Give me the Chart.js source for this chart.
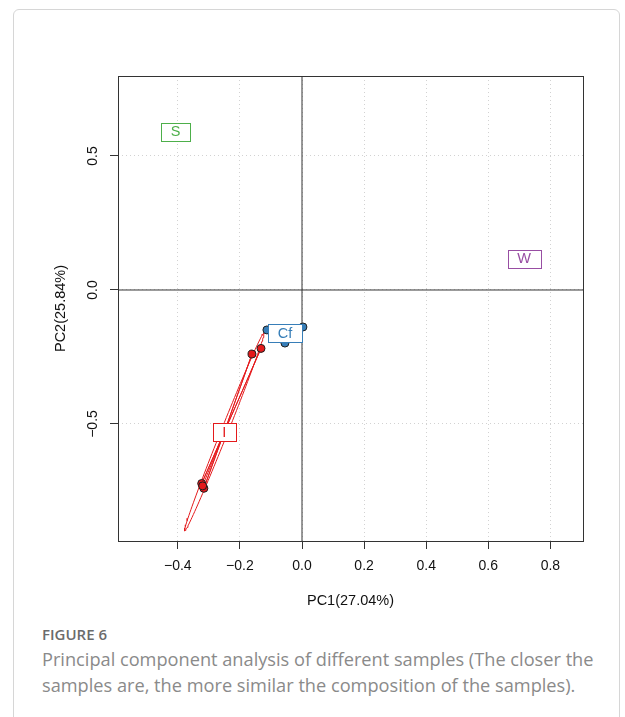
<!DOCTYPE html>
<html><head><meta charset="utf-8">
<script src="https://cdn.jsdelivr.net/npm/chart.js@4.4.1/dist/chart.umd.min.js"></script>
<style>
html,body{margin:0;padding:0;background:#fff;width:625px;height:717px;overflow:hidden;}
#frame{position:absolute;left:13px;top:9px;width:607px;height:760px;border:1px solid #d6d6d6;border-radius:6px;box-sizing:border-box;}
#c{position:absolute;left:0;top:0;}
#fig{position:absolute;left:42px;top:624px;font-family:'Open Sans',sans-serif;font-weight:600;font-size:15px;color:#6b6b6b;line-height:20px;white-space:nowrap;}
#cap{position:absolute;left:42px;top:646px;width:580px;font-family:'Open Sans',sans-serif;font-size:18.2px;line-height:26px;color:#8a8a8a;white-space:nowrap;}
</style></head><body>
<div id="frame"></div>
<canvas id="c" width="625" height="620"></canvas>
<div id="fig">FIGURE 6</div>
<div id="cap">Principal component analysis of different samples (The closer the<br>samples are, the more similar the composition of the samples).</div>
<script>
// ---- data ----
const groupNames = ['S', 'W', 'I', 'Cf'];
const groupColors = ['#4DAF4A', '#984EA3', '#E41A1C', '#377EB8'];
const pc1_S = [-0.410, -0.400, -0.411];
const pc2_S = [0.590, 0.595, 0.588];
const pc1_W = [0.694, 0.726, 0.725];
const pc2_W = [0.131, 0.111, 0.109];
const pc1_I = [-0.161, -0.132, -0.323, -0.316, -0.320];
const pc2_I = [-0.239, -0.218, -0.722, -0.740, -0.731];
const pc1_Cf = [-0.113, 0.003, -0.055];
const pc2_Cf = [-0.149, -0.138, -0.198];
const xTickValues = [-0.4, -0.2, 0.0, 0.2, 0.4, 0.6, 0.8];
const xTickLabels = ['\u22120.4', '\u22120.2', '0.0', '0.2', '0.4', '0.6', '0.8'];
const yTickValues = [-0.5, 0.0, 0.5];
const yTickLabels = ['\u22120.5', '0.0', '0.5'];
const xLimits = [-0.5926, 0.905];
const yLimits = [-0.9366, 0.7985];
const ellipseScale = 1.5;

const groupX = [pc1_S, pc1_W, pc1_I, pc1_Cf];
const groupY = [pc2_S, pc2_W, pc2_I, pc2_Cf];
const ellipseGroups = ['I'];

function stats(xs, ys) {
  const n = xs.length;
  const mx = xs.reduce((a, b) => a + b, 0) / n;
  const my = ys.reduce((a, b) => a + b, 0) / n;
  let sxx = 0, syy = 0, sxy = 0;
  for (let i = 0; i < n; i++) {
    sxx += (xs[i] - mx) ** 2; syy += (ys[i] - my) ** 2; sxy += (xs[i] - mx) * (ys[i] - my);
  }
  return {mx, my, sxx: sxx / n, syy: syy / n, sxy: sxy / n};
}
function ellipsePoints(st, c) {
  const pts = [];
  const sx = Math.sqrt(st.sxx);
  const sy = Math.sqrt(st.syy);
  const r = st.sxy / (sx * sy);
  for (let k = 0; k <= 120; k++) {
    const t = 2 * Math.PI * k / 120;
    pts.push({
      x: st.mx + c * sx * Math.cos(t),
      y: st.my + c * sy * (r * Math.cos(t) + Math.sqrt(Math.max(0, 1 - r * r)) * Math.sin(t))
    });
  }
  return pts;
}

const datasets = [];
// points (drawn on top)
groupNames.forEach((g, i) => {
  datasets.push({
    data: groupX[i].map((x, j) => ({x, y: groupY[i][j]})),
    pointRadius: 4, pointHoverRadius: 4,
    backgroundColor: groupColors[i], borderColor: '#1e1e1e', borderWidth: 1,
    showLine: false
  });
});
// stars and ellipses
groupNames.forEach((g, i) => {
  const st = stats(groupX[i], groupY[i]);
  const star = [];
  groupX[i].forEach((x, j) => { star.push({x: st.mx, y: st.my}); star.push({x, y: groupY[i][j]}); });
  datasets.push({data: star, showLine: true, pointRadius: 0, borderColor: groupColors[i], borderWidth: 1, tension: 0});
  if (ellipseGroups.includes(g)) {
    datasets.push({data: ellipsePoints(st, ellipseScale), showLine: true, pointRadius: 0, borderColor: groupColors[i], borderWidth: 1, tension: 0});
  }
});
// zero reference lines
datasets.push({data: [{x: xLimits[0], y: 0}, {x: xLimits[1], y: 0}], showLine: true, pointRadius: 0, borderColor: '#333', borderWidth: 1});
datasets.push({data: [{x: 0, y: yLimits[0]}, {x: 0, y: yLimits[1]}], showLine: true, pointRadius: 0, borderColor: '#333', borderWidth: 1});

const FONT = "'Liberation Sans', Arial, Helvetica, sans-serif";

const boxPlugin = {
  id: 'box',
  beforeDatasetsDraw(chart) {
    const {ctx, chartArea: a} = chart;
    ctx.save();
    ctx.strokeStyle = '#333'; ctx.lineWidth = 1;
    ctx.strokeRect(Math.round(a.left) + 0.5, Math.round(a.top) + 0.5, Math.round(a.right - a.left), Math.round(a.bottom - a.top));
    ctx.restore();
  }
};
const labelPlugin = {
  id: 'groupLabels',
  afterDatasetsDraw(chart) {
    const {ctx} = chart;
    const xs = chart.scales.x, ys = chart.scales.y;
    ctx.save();
    ctx.font = '14.5px ' + FONT;
    ctx.textAlign = 'center'; ctx.textBaseline = 'middle';
    groupNames.forEach((g, i) => {
      const st = stats(groupX[i], groupY[i]);
      const px = xs.getPixelForValue(st.mx), py = ys.getPixelForValue(st.my);
      const w = Math.round(ctx.measureText(g).width + 19), h = 18;
      const l = Math.round(px - w / 2) + 0.5, t = Math.round(py - h / 2) + 0.5;
      ctx.fillStyle = '#fff';
      ctx.fillRect(l, t, w, h);
      ctx.strokeStyle = groupColors[i]; ctx.lineWidth = 1;
      ctx.strokeRect(l, t, w, h);
      ctx.fillStyle = groupColors[i];
      ctx.fillText(g, px, py + 0.5);
    });
    ctx.restore();
  }
};

new Chart(document.getElementById('c'), {
  type: 'scatter',
  data: {datasets},
  plugins: [boxPlugin, labelPlugin],
  options: {
    responsive: false, animation: false, devicePixelRatio: 1,
    layout: {padding: {left: 0, right: 42, top: 76, bottom: 0}},
    plugins: {legend: {display: false}, tooltip: {enabled: false}},
    scales: {
      x: {
        type: 'linear', position: 'bottom', min: xLimits[0], max: xLimits[1],
        afterBuildTicks: s => { s.ticks = xTickValues.map(v => ({value: v})); },
        afterFit: s => { s.height = 79; },
        ticks: {
          callback: (v, i) => xTickLabels[i], autoSkip: false, maxRotation: 0, minRotation: 0,
          padding: 8.5, color: '#111', font: {family: FONT, size: 14}
        },
        grid: {color: '#d2d2d2', tickColor: '#333', tickLength: 8, tickBorderDash: [], lineWidth: 1},
        border: {display: false, dash: [1, 3]},
        title: {display: true, text: 'PC1(27.04%)', color: '#111', font: {family: FONT, size: 14.5}, padding: {top: 0, bottom: 10.3}}
      },
      y: {
        type: 'linear', position: 'left', min: yLimits[0], max: yLimits[1],
        afterBuildTicks: s => { s.ticks = yTickValues.map(v => ({value: v})); },
        afterFit: s => { s.width = 118; },
        ticks: {
          callback: (v, i) => yTickLabels[i], autoSkip: false, minRotation: 90, maxRotation: 90,
          crossAlign: 'center', padding: 3.5, color: '#111', font: {family: FONT, size: 14}
        },
        grid: {color: '#d2d2d2', tickColor: '#333', tickLength: 8, tickBorderDash: [], lineWidth: 1},
        border: {display: false, dash: [1, 3]},
        title: {display: true, text: 'PC2(25.84%)', color: '#111', font: {family: FONT, size: 14.5}, padding: {top: 52, bottom: 0}}
      }
    }
  }
});
</script>
</body></html>
